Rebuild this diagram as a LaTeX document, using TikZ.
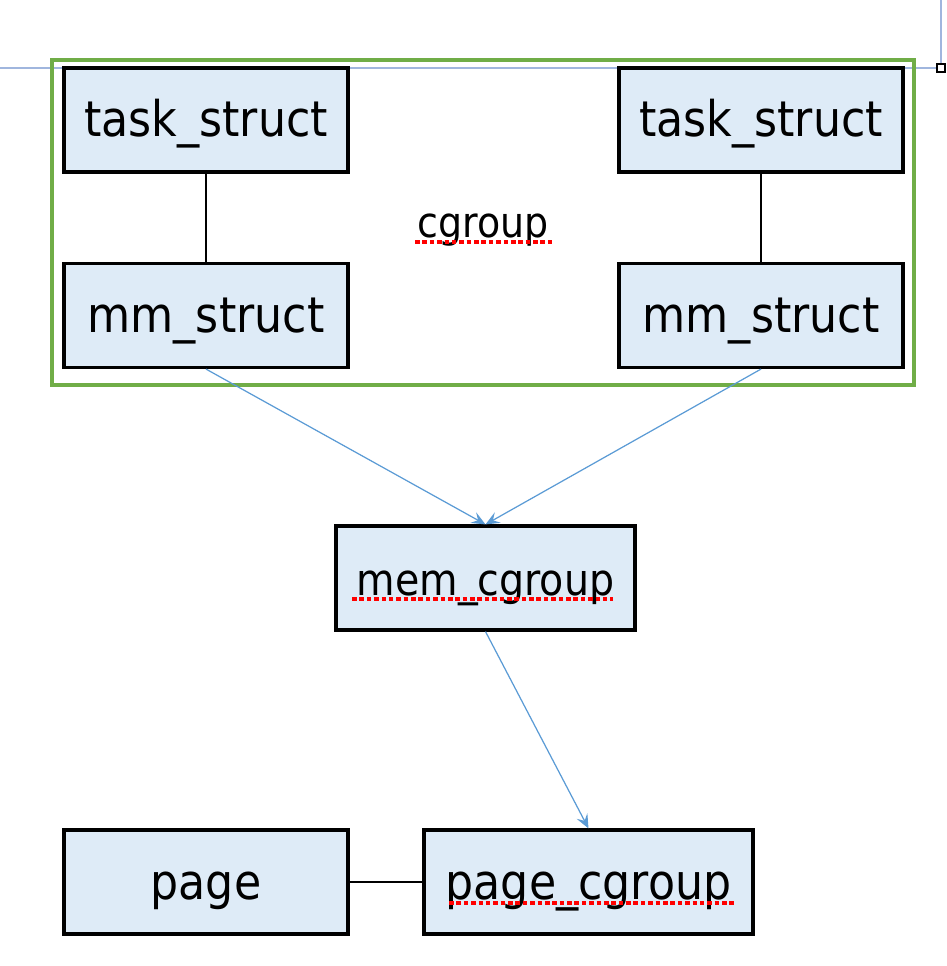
\documentclass[tikz,border=0pt]{standalone}
\usepackage{fontspec}
\setmainfont{DejaVu Sans Condensed}
\usetikzlibrary{arrows.meta}
\definecolor{boxfill}{RGB}{222,235,247}
\definecolor{groupgreen}{RGB}{112,173,71}
\definecolor{arrowblue}{RGB}{91,155,213}
\definecolor{guideblue}{RGB}{160,182,222}
\begin{document}
\begin{tikzpicture}[x=0.02cm, y=-0.02cm,
    box/.style={rectangle, draw=black, line width=1.8pt, fill=boxfill, minimum width=5.68cm, minimum height=2.08cm, inner sep=0pt, text height=0.8cm, text depth=0.12cm, font=\fontsize{28}{32}\selectfont},
    link/.style={draw=black, line width=0.6pt},
    flow/.style={draw=arrowblue, line width=0.7pt, -{Stealth[length=2.8mm, width=2.4mm, inset=1.1mm]}},
    squiggle/.style={draw=red, line width=2.2pt, dash pattern=on 2.6pt off 1.6pt}]
      \useasboundingbox (0,0) rectangle (946,966);
      % guides
      \draw[guideblue, line width=0.8pt] (0,68) -- (937,68);
      \draw[guideblue, line width=0.8pt] (941,0) -- (941,64);
      \node[draw=black, fill=white, line width=0.6pt, minimum size=0.16cm, inner sep=0pt] at (941,68) (handle) {};
      % Group
      \draw[groupgreen, line width=2.2pt] (52,60) rectangle (914,385);
      \node[anchor=base, inner sep=0pt, font=\fontsize{24}{28}\selectfont] at (483,237) (cg) {cgroup};
      % Nodes
      \node[box] at (206,120) (taskA) {task\_struct};
      \node[box] at (761,120) (taskB) {task\_struct};
      \node[box] at (206,315.5) (mmA) {mm\_struct};
      \node[box] at (761,315.5) (mmB) {mm\_struct};
      \node[box, minimum width=5.98cm, font=\fontsize{25}{30}\selectfont] at (485.5,578) (memcg) {mem\_cgroup};
      \node[box] at (206,882) (page) {page};
      \node[box, minimum width=6.58cm] at (588.5,882) (pagecg) {page\_cgroup};

      \draw[link] (taskA) -- (mmA);
      \draw[link] (taskB) -- (mmB);
      \draw[link] (page) -- (pagecg);
      \draw[flow] (mmA.south) -- (memcg.north);
      \draw[flow] (mmB.south) -- (memcg.north);
      \draw[flow] (memcg.south) -- (pagecg.north);

      % spelling marks
      \draw[squiggle] (415,242) -- (552,242);
      \draw[squiggle] (352,599) -- (613,599);
      \draw[squiggle] (449,903) -- (735,903);
    \end{tikzpicture}
\end{document}
